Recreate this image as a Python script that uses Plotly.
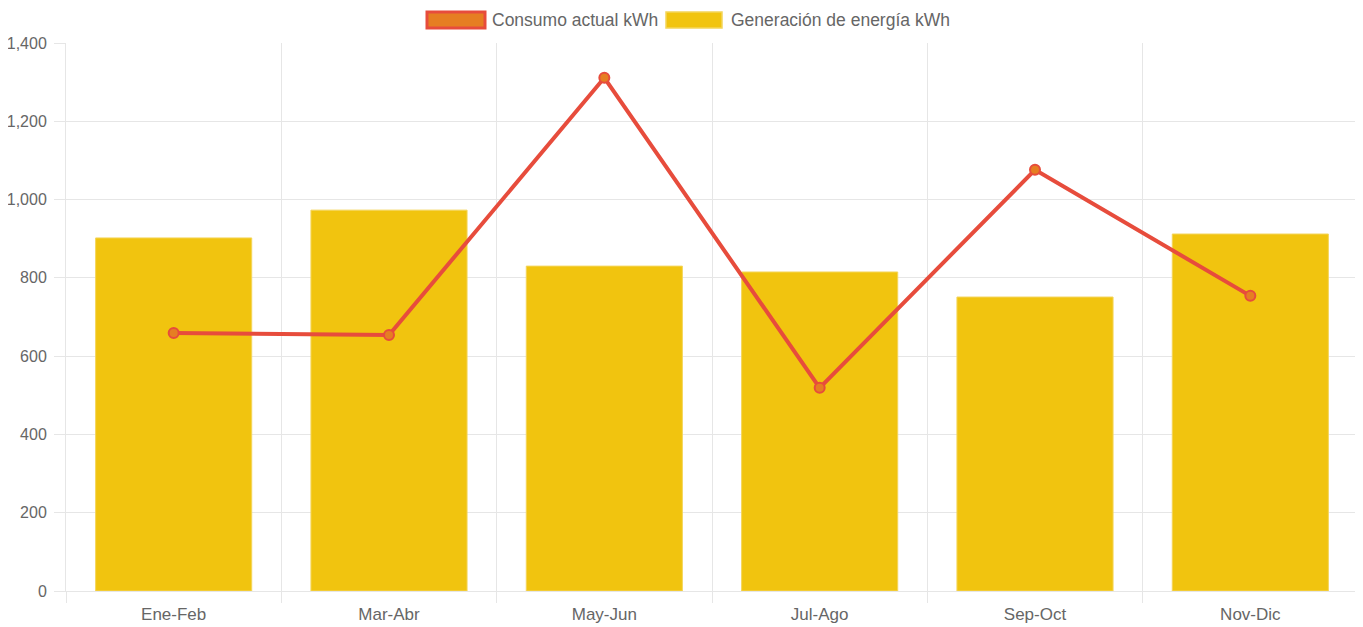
import plotly.graph_objects as go

categories = ["Ene-Feb", "Mar-Abr", "May-Jun", "Jul-Ago", "Sep-Oct", "Nov-Dic"]
generacion = [902, 973, 830, 815, 751, 912]
consumo = [659, 654, 1311, 519, 1076, 754]
series_names = ["Consumo actual kWh", "Generación de energía kWh"]
y_ticks = [0, 200, 400, 600, 800, 1000, 1200, 1400]

FONT = "Liberation Sans, Arial, Helvetica, sans-serif"
GRID = "#e6e6e6"
TXT = "#666666"
YELLOW = "#f1c40f"
RED = "#e74c3c"
ORANGE = "#e67e22"

fig = go.Figure()
fig.add_trace(go.Bar(
    x=categories, y=generacion, name=series_names[1],
    marker=dict(color=YELLOW, line=dict(color="#f4d55a", width=1)),
    showlegend=False, hoverinfo="skip",
))
fig.add_trace(go.Scatter(
    x=categories, y=consumo, name=series_names[0], mode="lines+markers",
    line=dict(color=RED, width=4),
    marker=dict(size=10, color=ORANGE, line=dict(color=RED, width=2)),
    showlegend=False, hoverinfo="skip",
))

# page body has an 8px margin, so the figure is drawn at (8, 8)
OFF = 8
W, H = 1363 - OFF, 627 - OFF
L, R, T, B = 66 - OFF, 5, 43 - OFF, 36
pw, ph = W - L - R, H - T - B

def px_x(px):
    return (px - OFF - L) / pw

def px_y(py):
    return (H - B - (py - OFF)) / ph

shapes = [
    dict(type="rect", xref="paper", yref="paper",
         x0=px_x(427), x1=px_x(485), y0=px_y(28), y1=px_y(12),
         fillcolor=ORANGE, line=dict(color=RED, width=3)),
    dict(type="rect", xref="paper", yref="paper",
         x0=px_x(666), x1=px_x(722), y0=px_y(28), y1=px_y(12),
         fillcolor=YELLOW, line=dict(color="#f4d55a", width=1.5)),
]
annotations = [
    dict(xref="paper", yref="paper", x=px_x(490), y=px_y(20), text=series_names[0],
         showarrow=False, xanchor="left", yanchor="middle",
         font=dict(family=FONT, size=17.5, color=TXT)),
    dict(xref="paper", yref="paper", x=px_x(729), y=px_y(20), text=series_names[1],
         showarrow=False, xanchor="left", yanchor="middle",
         font=dict(family=FONT, size=17.5, color=TXT)),
]

fig.update_layout(
    width=W, height=H,
    margin=dict(l=L, r=R, t=T, b=B, pad=0, autoexpand=False),
    paper_bgcolor="white", plot_bgcolor="white",
    bargap=0.275,
    font=dict(family=FONT, size=17, color=TXT),
    shapes=shapes, annotations=annotations,
    showlegend=False,
    xaxis=dict(
        type="category", tickson="boundaries",
        showgrid=True, gridcolor=GRID, gridwidth=1,
        ticks="outside", ticklen=11, tickcolor=GRID, tickwidth=1,
        showline=True, linecolor=GRID, linewidth=1,
        tickfont=dict(family=FONT, size=17, color=TXT),
        ticklabelstandoff=8,
        range=[-0.5, 5.5], fixedrange=True, automargin=False,
    ),
    yaxis=dict(
        range=[0, 1400], tickvals=y_ticks, tickformat=",",
        showgrid=True, gridcolor=GRID, gridwidth=1,
        ticks="outside", ticklen=11, tickcolor=GRID, tickwidth=1,
        showline=True, linecolor=GRID, linewidth=1,
        zeroline=False,
        tickfont=dict(family=FONT, size=16, color=TXT),
        ticklabelstandoff=4,
        fixedrange=True, automargin=False,
    ),
)

fig.write_html("out.html")
